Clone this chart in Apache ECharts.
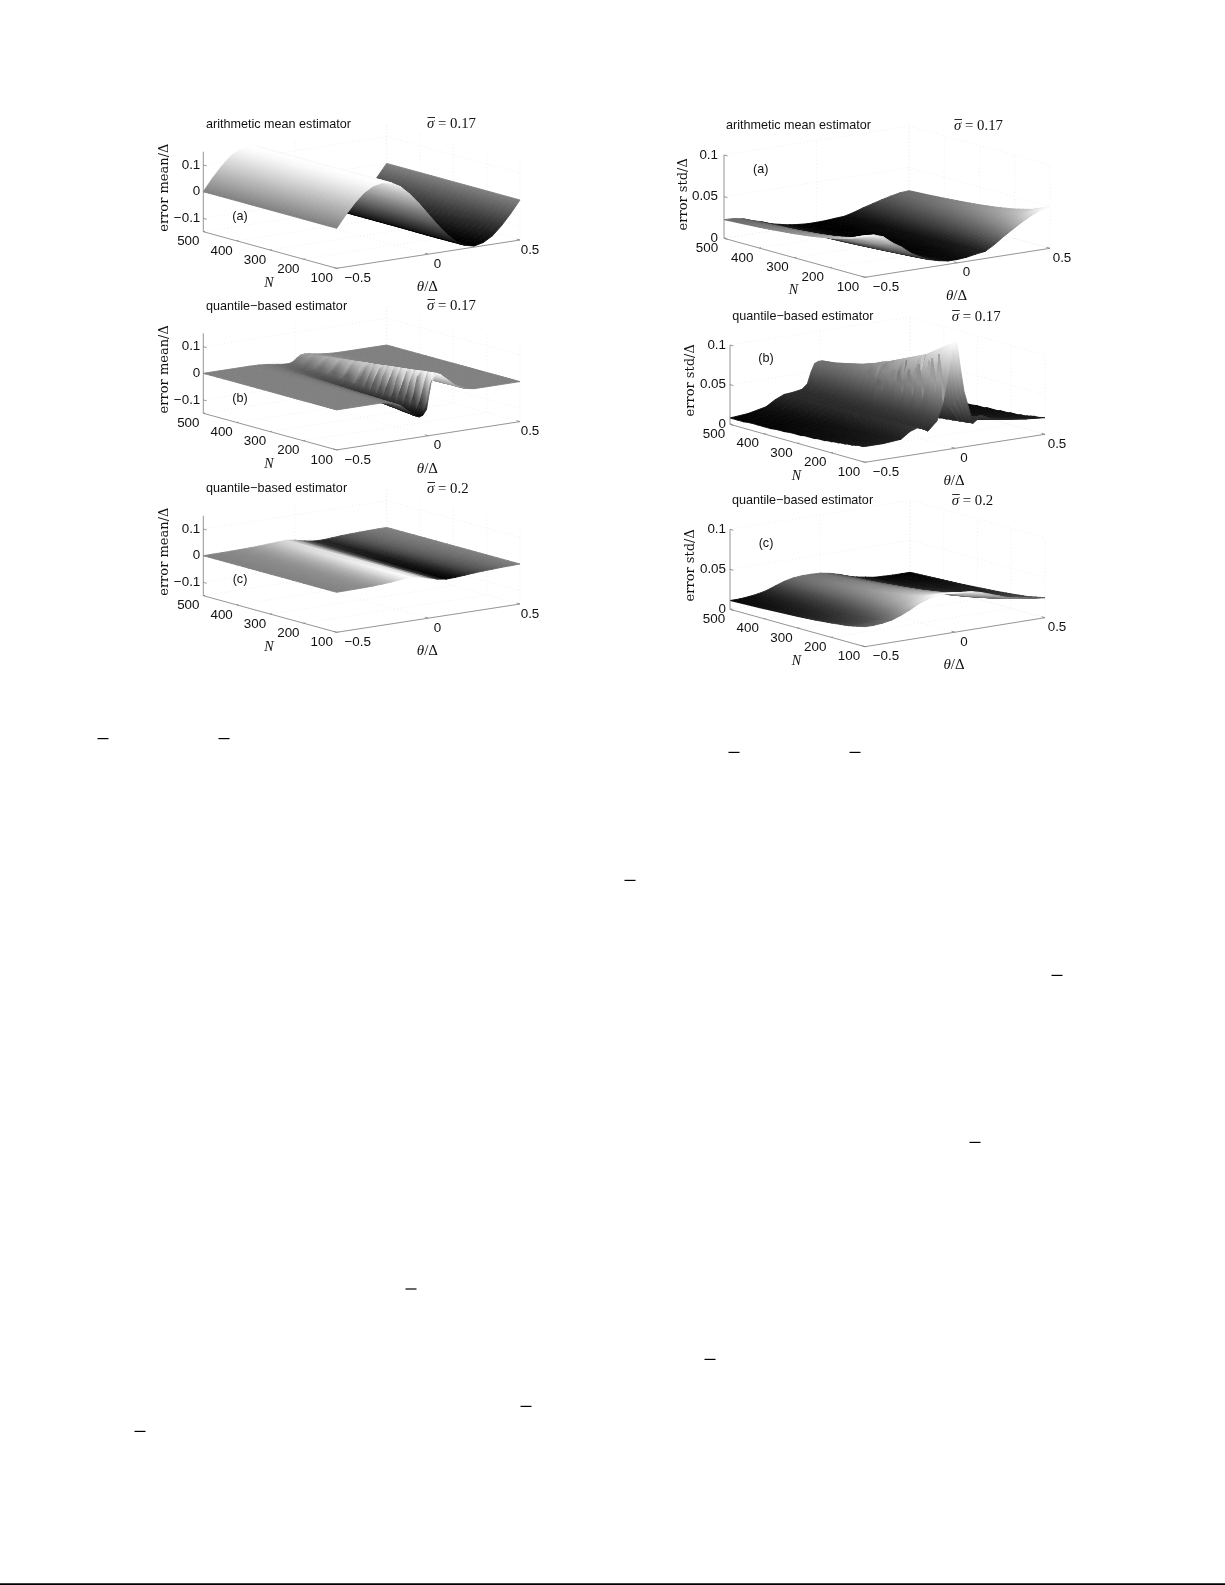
<!DOCTYPE html>
<html><head><meta charset="utf-8">
<style>html,body{margin:0;padding:0;background:#fff}#c{width:1225px;height:1585px}</style>
<script src="https://cdn.jsdelivr.net/npm/echarts@6/dist/echarts.min.js"></script>
</head><body><div id="c"></div>
<script>
// ---------- values (z in thousandths of Delta) ----------
const thetaTicks = [-0.5, 0, 0.5];
const thetaTickLabels = ['\u22120.5', '0', '0.5'];
const nTicks = [500, 400, 300, 200, 100];
const nTickLabels = ['500', '400', '300', '200', '100'];
const meanTicks = [-0.1, 0, 0.1];
const meanTickLabels = ['\u22120.1', '0', '0.1'];
const stdTicks = [0, 0.05, 0.1];
const stdTickLabels = ['0', '0.05', '0.1'];

const theta21 = [-.5,-.45,-.4,-.35,-.3,-.25,-.2,-.15,-.1,-.05,0,.05,.1,.15,.2,.25,.3,.35,.4,.45,.5];
const thetaRidgeMean = [-.5,-.25,-.2,-.15,-.1,-.07,-.05,-.03,-.01,.01,.03,.05,.07,.1,.15,.2,.25,.5];
const thetaRidgeStd = [-.5,-.4,-.3,-.25,-.2,-.15,-.1,-.07,-.05,-.03,-.01,.01,.03,.05,.1,.15,.2,.3,.4,.5];
const nCoarse = [100,200,300,400,500];
const nMedium = [100,150,200,250,300,350,400,450,500];
const nRidge = [100,110,120,130,140,150,160,170,180,190,200,210,220,230,240,250,260,270,280,290,300,320,340,360,380,400,420,440,460,480,500];

const meanA = [
[0,45,85,118,138,145,138,118,85,45,0,-45,-85,-118,-138,-146,-138,-118,-85,-45,0],
[0,45,85,117,138,145,138,118,85,44,0,-45,-85,-118,-139,-146,-138,-118,-85,-45,0],
[0,45,84,118,138,144,138,117,85,45,1,-45,-85,-117,-138,-145,-138,-118,-84,-45,0],
[0,44,85,118,137,145,137,118,84,45,0,-44,-85,-118,-138,-145,-137,-118,-85,-44,0],
[0,45,85,118,138,145,138,118,85,45,0,-45,-85,-118,-138,-145,-138,-118,-85,-45,0]];

const meanB = [
[0,0,-6,-22,-52,-68,-74,-70,-50,30,68,78,70,52,22,6,0,0],
[0,0,-6,-21,-51,-67,-73,-69,-62,-30,40,76,69,51,21,6,0,0],
[0,0,-6,-21,-50,-65,-71,-68,-30,20,66,75,68,50,21,6,0,0],
[0,0,-6,-21,-49,-64,-70,-66,-60,-40,30,73,66,49,21,6,0,0],
[0,0,-6,-20,-48,-63,-68,-65,-20,42,70,72,65,48,20,6,0,0],
[0,0,-6,-20,-47,-61,-66,-63,-55,-20,50,70,63,47,20,6,0,0],
[0,0,-5,-19,-46,-59,-65,-61,-18,30,62,68,61,46,19,5,0,0],
[0,0,-5,-19,-45,-58,-63,-60,-52,-36,24,66,60,45,19,5,0,0],
[0,0,-5,-18,-44,-57,-62,-59,-12,26,60,65,59,44,18,5,0,0],
[0,0,-5,-18,-43,-55,-60,-57,-50,-15,44,63,57,43,18,5,0,0],
[0,0,-5,-17,-42,-54,-59,-56,-25,30,58,62,56,42,17,5,0,0],
[0,0,-5,-17,-41,-53,-57,-55,-48,-32,20,60,54,41,17,5,0,0],
[0,0,-5,-17,-40,-51,-56,-53,-10,24,54,59,53,40,17,5,0,0],
[0,0,-5,-16,-39,-50,-55,-52,-44,-12,36,57,52,39,16,5,0,0],
[0,0,-4,-16,-38,-49,-53,-50,-14,26,50,56,50,38,16,4,0,0],
[0,0,-4,-15,-36,-47,-51,-49,-42,-26,18,54,49,36,15,4,0,0],
[0,0,-4,-15,-35,-45,-49,-47,-8,22,46,52,47,35,15,4,0,0],
[0,0,-4,-14,-34,-44,-48,-45,-38,-8,32,50,45,34,14,4,0,0],
[0,0,-4,-14,-33,-43,-47,-44,-12,20,44,49,44,33,14,4,0,0],
[0,0,-4,-13,-32,-41,-45,-43,-36,-22,14,47,43,32,13,4,0,0],
[0,0,-4,-13,-31,-40,-44,-41,-8,18,40,46,41,31,13,4,0,0],
[0,0,-3,-12,-29,-37,-41,-39,-32,-4,28,43,39,29,12,3,0,0],
[0,0,-3,-11,-27,-35,-38,-36,-6,14,34,40,36,27,11,3,0,0],
[0,0,-3,-10,-24,-31,-34,-32,-26,-10,18,36,32,24,10,3,0,0],
[0,0,-3,-9,-22,-29,-31,-30,-6,12,28,33,30,22,9,3,0,0],
[0,0,-2,-8,-20,-26,-29,-27,-22,-4,14,30,27,20,8,2,0,0],
[0,0,-2,-8,-18,-23,-26,-24,-6,10,24,27,24,18,8,2,0,0],
[0,0,-2,-7,-16,-21,-23,-22,-18,-6,10,24,22,16,7,2,0,0],
[0,0,-2,-6,-13,-17,-19,-18,-5,8,18,20,18,13,6,2,0,0],
[0,0,-1,-5,-11,-15,-16,-15,-12,-2,8,17,15,11,5,1,0,0],
[0,0,-1,-4,-9,-12,-13,-13,-8,3,12,14,13,9,4,1,0,0]];

const meanC = [
[0,.5,1,1.5,2.5,4.5,7,11,14,10,1,-9,-14,-12.5,-10,-7,-5,-3.5,-2,-1,0],
[0,.4,.9,1.4,2.3,4,6.5,10,13,11,2,-8,-13,-12,-9.5,-6.5,-4.5,-3,-1.8,-.8,0],
[0,.4,.8,1.2,2,3.5,5.5,8.5,11.5,11,3,-6,-12,-11.5,-9,-6,-4,-2.7,-1.6,-.7,0],
[0,.3,.7,1.1,1.8,3,4.8,7.2,10,10.5,4,-4.5,-10,-11,-8,-5.5,-3.7,-2.4,-1.4,-.6,0],
[0,.3,.6,1,1.6,2.6,4,6,8,10,5,-3,-9,-10,-7.5,-5,-3.5,-2.2,-1.3,-.6,0]];

const stdA = [
[50,49,45,36,29,20,14,9,6,4,4,5,7,8.5,15,23,30,37,43,48,50],
[40.8,40,36.7,29.4,23.7,16.3,11.4,7.3,4.9,3.3,3.3,4.1,5.7,6.9,12.2,18.8,24.5,30.2,35.1,39.2,40.8],
[35.4,34.6,31.8,25.5,20.5,14.1,9.9,6.4,4.2,2.8,2.8,3.5,4.9,6,10.6,16.3,21.2,26.2,30.4,33.9,35.4],
[31.6,31,28.4,22.8,18.3,12.6,8.8,5.7,3.8,2.5,2.5,3.2,4.4,5.4,9.5,14.5,19,23.4,27.2,30.3,31.6],
[28.9,28.3,26,20.8,16.7,11.5,8.1,5.2,3.5,2.3,2.3,2.9,4,4.9,8.7,13.3,17.3,21.3,24.8,27.7,28.9],
[26.8,26.2,24.1,19.3,15.5,10.7,7.5,4.8,3.2,2.1,2.1,2.7,3.7,4.5,8,12.3,16,19.8,23,25.7,26.8],
[25,24.5,22.5,18,14.5,10,7,4.5,3,2,2,2.5,3.5,4.3,7.5,11.5,15,18.5,21.5,24,25],
[23.6,23.1,21.2,17,13.7,9.4,6.6,4.2,2.8,1.9,1.9,2.4,3.3,4,7.1,10.8,14.1,17.4,20.3,22.6,23.6],
[22.4,21.9,20.1,16.1,13,8.9,6.3,4,2.7,1.8,1.8,2.2,3.1,3.8,6.7,10.3,13.4,16.5,19.2,21.5,22.4]];

const stdB = [
[20,20,22,30,34,27,38,58,80,105,130,134,100,70,28,36,30,26,23,21],
[19,20,21,28,33,28,38,120,82,104,128,131,96,66,28,34,28,25,22,20],
[19,19,21,27,32,28,37,58,80,102,125,128,92,60,27,32,27,24,21,19],
[18,19,20,26,32,29,37,112,78,100,122,125,90,50,27,31,26,23,20,19],
[17,18,20,25,31,29,37,56,76,100,120,122,88,42,26,30,25,22,19,18],
[17,17,19,25,31,29,36,56,106,98,117,119,84,46,26,29,24,21,19,17],
[16,17,19,24,30,29,36,55,74,97,114,116,80,48,25,28,23,20,18,16],
[16,16,18,24,30,29,36,100,74,94,111,113,76,46,25,27,23,20,17,16],
[15,16,18,23,30,29,35,54,74,92,108,110,72,44,24,26,22,19,17,15],
[15,15,18,23,29,29,35,54,72,70,105,107,69,42,24,25,21,19,16,15],
[14,15,17,22,29,29,35,90,70,90,102,105,66,40,23,24,20,18,16,15],
[14,15,17,22,29,29,34,53,70,88,100,103,63,38,23,24,20,18,15,14],
[13,14,17,22,29,29,34,52,70,86,98,101,60,36,22,23,19,17,15,14],
[13,14,16,21,29,28,34,84,68,85,96,99,58,35,22,22,19,17,15,14],
[13,14,16,21,29,28,34,52,68,60,94,97,56,34,21,22,18,16,14,13],
[12,13,16,21,28,28,33,51,66,82,92,95,55,33,21,21,18,16,14,13],
[12,13,16,21,28,28,33,50,76,80,90,93,54,32,20,21,17,15,14,13],
[12,13,15,21,28,28,33,50,65,79,88,91,52,31,20,20,17,15,13,13],
[12,13,15,20,28,28,33,50,64,78,86,89,50,30,20,20,17,15,13,12],
[11,12,15,20,28,28,32,66,63,76,70,87,48,30,19,19,16,14,13,12],
[11,12,15,20,28,28,32,48,62,75,83,85,46,29,19,19,16,14,13,12],
[11,12,15,20,28,28,32,46,60,62,80,82,44,28,19,18,15,13,12,11],
[10,11,14,20,27,28,32,45,58,70,76,78,42,27,18,18,15,13,12,11],
[10,11,14,21,27,28,31,43,56,68,73,75,40,27,18,17,14,12,11,10],
[9,10,14,21,27,28,31,42,54,66,70,72,40,26,17,16,14,12,11,10],
[9,10,14,21,27,28,31,40,53,64,68,70,40,26,17,16,13,11,10,9],
[9,10,14,21,27,28,30,39,52,62,66,68,40,26,17,15,13,11,10,9],
[9,10,14,21,27,28,30,38,51,60,64,66,40,26,17,15,12,10,9,9],
[8,10,14,22,27,28,30,38,50,60,63,64,38,25,17,15,12,10,9,8],
[8,10,15,22,27,28,30,37,50,60,62,63,38,25,17,14,12,10,9,8],
[8,10,15,22,27,28,30,36,50,60,62,62,40,30,20,14,11,9,8,8]];

const stdC = [
[25,25,26,28,32,37,43,47,50,50,49,48,47,44,40,36,32,30,28,26,25],
[20.5,20.5,21.5,23,26.5,31,36,40,43,43,42,41,39,35,32,29,26,24,23,21.5,20.5],
[18,18,19,20.5,23.5,27.5,32.5,36,38.5,38.5,38,36.5,34.5,30,27,24,21.5,20,19,18.5,18],
[16,16,17,18.5,21,25,29.5,33,35.5,35.5,35,33.5,31,27,23.5,21,19,17.5,16.5,16,16],
[14.5,14.5,15.5,17,19.5,23,27.5,31,33,33,32.5,31,28.5,24.5,21,18.5,16.5,15.5,14.5,14.5,14.5],
[13.5,13.5,14.5,16,18.5,22,26.5,29.5,31.5,31.5,31,29,26.5,22.5,19,16.5,14.5,13.5,13,13,13],
[12.5,12.5,13.5,15,17.5,21,25.5,28.5,30,30,29.5,27.5,24.5,20.5,17,15,13,12.5,12,12,12],
[11.7,11.7,12.7,14.2,16.7,20.5,24.7,27.5,28.7,28.7,28.2,26.2,23.2,19,16,14,12,11.5,11,11,11],
[11,11,12,13.5,16,20,24,26.5,27.5,27.5,27,25,22,18,15,13,11,10.5,10,10,10]];

const titles = ['arithmetic mean estimator','quantile\u2212based estimator','quantile\u2212based estimator',
                'arithmetic mean estimator','quantile\u2212based estimator','quantile\u2212based estimator'];
const sigmaLabels = ['0.17','0.17','0.2','0.17','0.17','0.2'];
const panelTags = ['(a)','(b)','(c)','(a)','(b)','(c)'];
const zNames = ['error mean/\u0394','error mean/\u0394','error mean/\u0394','error std/\u0394','error std/\u0394','error std/\u0394'];

// ---------- layout (page pixels) ----------
const W = 1225, H = 1585;
function leftFrame(dy){return {O:[203.3,231.7+dy],A:[336.7,268.3+dy],B:[520,240+dy],zPx:266.7,zLo:-.15,zHi:.15,zt:meanTicks,ztl:meanTickLabels,zOff:-3,nOff:-15,bOff:10,nameOff:-38.5};}
const panels = [
 Object.assign(leftFrame(0),{thetas:theta21,ns:nCoarse,rows:meanA,lo:-146,hi:145,shade:6,title:[206,125],sig:[427,124],tag:[240,216.7]}),
 Object.assign(leftFrame(181.6),{thetas:thetaRidgeMean,ns:nRidge,rows:meanB,lo:-78,hi:78,shade:1,title:[206,307],sig:[427,306],tag:[240,398.3]}),
 Object.assign(leftFrame(364),{thetas:theta21,ns:nCoarse,rows:meanC,lo:-14,hi:14,shade:6,title:[206,488.8],sig:[427,489],tag:[240,579.3]}),
 {O:[724,238.3],A:[865,277.3],B:[1050,248.3],zPx:833,zLo:0,zHi:.1,zt:stdTicks,ztl:stdTickLabels,zOff:-6,nOff:-17,bOff:12,nameOff:-40,thetas:theta21,ns:nMedium,rows:stdA,lo:2,hi:50,shade:4,title:[726,125.5],sig:[954,126],tag:[760.7,170]},
 {O:[730,424.3],A:[865,462.3],B:[1045,434.3],zPx:793,zLo:0,zHi:.1,zt:stdTicks,ztl:stdTickLabels,zOff:-4,nOff:-16,bOff:12,nameOff:-39.3,thetas:thetaRidgeStd,ns:nRidge,rows:stdB,lo:7,hi:134,shade:1,title:[732.3,316.5],sig:[951.7,317],tag:[766,359]},
 {O:[730,609.3],A:[865,646.7],B:[1045,617.7],zPx:800,zLo:0,zHi:.1,zt:stdTicks,ztl:stdTickLabels,zOff:-4,nOff:-16,bOff:12,nameOff:-39.3,thetas:theta21,ns:nMedium,rows:stdC,lo:10,hi:50,shade:4,title:[732,500.5],sig:[951.7,501],tag:[766,543.3]}
];
// short overbars left from the surrounding page text
const overbars = [[103,738.6],[224,738.6],[734,752.4],[855,752.4],[630,880.4],[1057,975.4],[975,1142.4],[411,1289],[526,1406.4],[710,1359.4],[140,1431.4]];

function project(p,theta,n,z){
  const s=theta+.5, r=(500-n)/400;
  return [p.O[0]+r*(p.A[0]-p.O[0])+s*(p.B[0]-p.A[0]),
          p.O[1]+r*(p.A[1]-p.O[1])+s*(p.B[1]-p.A[1])-(z-p.zLo)*p.zPx];
}
function grey(p,z){
  const g=Math.max(0,Math.min(1,(z-p.lo)/(p.hi-p.lo))), v=Math.round(g*255);
  return 'rgb('+v+','+v+','+v+')';
}
const SANS='"Liberation Sans",Arial,sans-serif', SERIF='"Liberation Serif",serif';

function surfaceSeries(p){
  const data=[];
  for(let j=p.ns.length-1;j>0;j--) for(let i=p.thetas.length-2;i>=0;i--){
    data.push([p.thetas[i],p.thetas[i+1],p.ns[j-1],p.ns[j],
      p.rows[j-1][i],p.rows[j-1][i+1],p.rows[j][i],p.rows[j][i+1]]);
  }
  const K=p.shade;
  return {type:'custom',coordinateSystem:'cartesian2d',clip:false,silent:true,progressive:0,animation:false,z:3,
    encode:{x:0,y:2},data:data,
    renderItem:function(params,api){
      const t0=api.value(0),t1=api.value(1),n0=api.value(2),n1=api.value(3);
      const a=api.value(4),b=api.value(5),c=api.value(6),d=api.value(7);
      const P=(t,n,z)=>api.coord(project(p,t,n,z/1000));
      const kids=[];
      for(let m=K-1;m>=0;m--){           // far strip first, so nearer strips paint over it
        const u0=m/K,u1=(m+1)/K, na=n0+(n1-n0)*u0, nb=n0+(n1-n0)*u1;
        const l0=a+(c-a)*u0,l1=a+(c-a)*u1,r0=b+(d-b)*u0,r1=b+(d-b)*u1;
        const p00=P(t0,na,l0),p10=P(t1,na,r0),p11=P(t1,nb,r1),p01=P(t0,nb,l1);
        const m0=[(p00[0]+p01[0])/2,(p00[1]+p01[1])/2], m1=[(p10[0]+p11[0])/2,(p10[1]+p11[1])/2];
        const ex=p01[0]-p00[0],ey=p01[1]-p00[1],el=Math.hypot(ex,ey)||1;
        const nx=-ey/el,ny=ex/el,L=(m1[0]-m0[0])*nx+(m1[1]-m0[1])*ny;
        const cl=grey(p,(l0+l1)/2),cr=grey(p,(r0+r1)/2);
        const fill=Math.abs(L)<.3?grey(p,(l0+l1+r0+r1)/4):
          new echarts.graphic.LinearGradient(m0[0],m0[1],m0[0]+nx*L,m0[1]+ny*L,[{offset:0,color:cl},{offset:1,color:cr}],true);
        kids.push({type:'polygon',shape:{points:[p00,p10,p11,p01]},style:{fill:fill,stroke:fill,lineWidth:.9}});
      }
      return {type:'group',children:kids};
    }};
}

function gridSeries(p){
  return {type:'custom',coordinateSystem:'cartesian2d',clip:false,silent:true,animation:false,z:1,data:[[0,0]],
    renderItem:function(params,api){
      const kids=[], seg=(a,b)=>{const q=api.coord(project(p,...a)),r=api.coord(project(p,...b));
        kids.push({type:'line',shape:{x1:q[0],y1:q[1],x2:r[0],y2:r[1]},style:{stroke:'#e9e9e9',lineWidth:.7,lineDash:[1,2.5]}});};
      thetaTicks.forEach(t=>{seg([t,100,p.zLo],[t,500,p.zLo]);seg([t,500,p.zLo],[t,500,p.zHi]);});
      nTicks.forEach(n=>{seg([-.5,n,p.zLo],[.5,n,p.zLo]);seg([.5,n,p.zLo],[.5,n,p.zHi]);});
      p.zt.forEach(z=>{seg([-.5,500,z],[.5,500,z]);seg([.5,500,z],[.5,100,z]);});
      return {type:'group',children:kids};
    }};
}

function axisSeries(p,idx){
  return {type:'custom',coordinateSystem:'cartesian2d',clip:false,silent:true,animation:false,z:5,data:[[0,0]],
    renderItem:function(params,api){
      const kids=[], zLo=p.zLo, C=(t,n,z)=>api.coord(project(p,t,n,z));
      const ln=(q,r,col)=>kids.push({type:'line',shape:{x1:q[0],y1:q[1],x2:r[0],y2:r[1]},style:{stroke:col||'#8a8a8a',lineWidth:.9}});
      const txt=(x,y,text,font,align,extra)=>kids.push(Object.assign({type:'text',x:x,y:y,
        style:Object.assign({text:text,font:font,fill:'#111',align:align||'center',verticalAlign:'middle'},(extra&&extra.style)||{})},
        extra&&extra.el||{}));
      ln(C(-.5,500,zLo),C(-.5,500,p.zHi));
      ln(C(-.5,500,zLo),C(-.5,100,zLo));
      ln(C(-.5,100,zLo),C(.5,100,zLo));
      const tickFont='13.4px '+SANS;
      p.zt.forEach((z,i)=>{const q=C(-.5,500,z);ln(q,C(-.5,490,z));txt(q[0]+p.zOff,q[1],p.ztl[i],tickFont,'right');});
      nTicks.forEach((n,i)=>{const q=C(-.5,n,zLo);ln(q,C(-.49,n,zLo));txt(q[0]+p.nOff,q[1]+10,nTickLabels[i],tickFont);});
      thetaTicks.forEach((t,i)=>{const q=C(t,100,zLo);ln(q,C(t,110,zLo));
        txt(q[0]+(i==0?21:i==1?9:p.bOff),q[1]+10,thetaTickLabels[i],tickFont);});
      const nm=C(-.5,300,zLo), tm=C(0,100,zLo), o=C(-.5,500,zLo);
      txt(nm[0]-1,nm[1]+33,'N','italic 14px '+SERIF);
      txt(tm[0]-1,tm[1]+33,'{i|\u03B8}/\u0394','15px '+SERIF,'center',{style:{rich:{i:{font:'italic 15px '+SERIF}}}});
      txt(o[0]+p.nameOff,o[1]-44,zNames[idx],'13px "DejaVu Serif",serif','center',{el:{rotation:Math.PI/2}});
      const a=api.coord(p.title), b=api.coord(p.sig), c=api.coord(p.tag);
      txt(a[0],a[1],titles[idx],'12.6px '+SANS,'left');
      txt(b[0],b[1],'{i|\u03C3} = '+sigmaLabels[idx],'14.8px '+SERIF,'left',{style:{rich:{i:{font:'italic 14.8px '+SERIF}}}});
      ln([b[0]+.5,b[1]-6.5],[b[0]+8,b[1]-6.5],'#111');
      txt(c[0],c[1],panelTags[idx],'12.6px '+SANS);
      return {type:'group',children:kids};
    }};
}

const series=[];
panels.forEach((p,i)=>{series.push(gridSeries(p));series.push(surfaceSeries(p));series.push(axisSeries(p,i));});

const chart=echarts.init(document.getElementById('c'),null,{renderer:'canvas',width:W,height:H});
chart.setOption({
  animation:false,backgroundColor:'#fff',
  grid:{left:0,right:0,top:0,bottom:0},
  xAxis:{type:'value',min:0,max:W,show:false},
  yAxis:{type:'value',min:0,max:H,inverse:true,show:false},
  tooltip:{show:false},
  graphic:overbars.map(b=>({type:'rect',shape:{x:b[0]-5.5,y:b[1]-.6,width:11,height:1.2},style:{fill:'#000'},silent:true}))
    .concat([{type:'rect',shape:{x:0,y:1583.2,width:W,height:1.8},style:{fill:'#000'},silent:true}]),
  series:series
});
</script></body></html>
